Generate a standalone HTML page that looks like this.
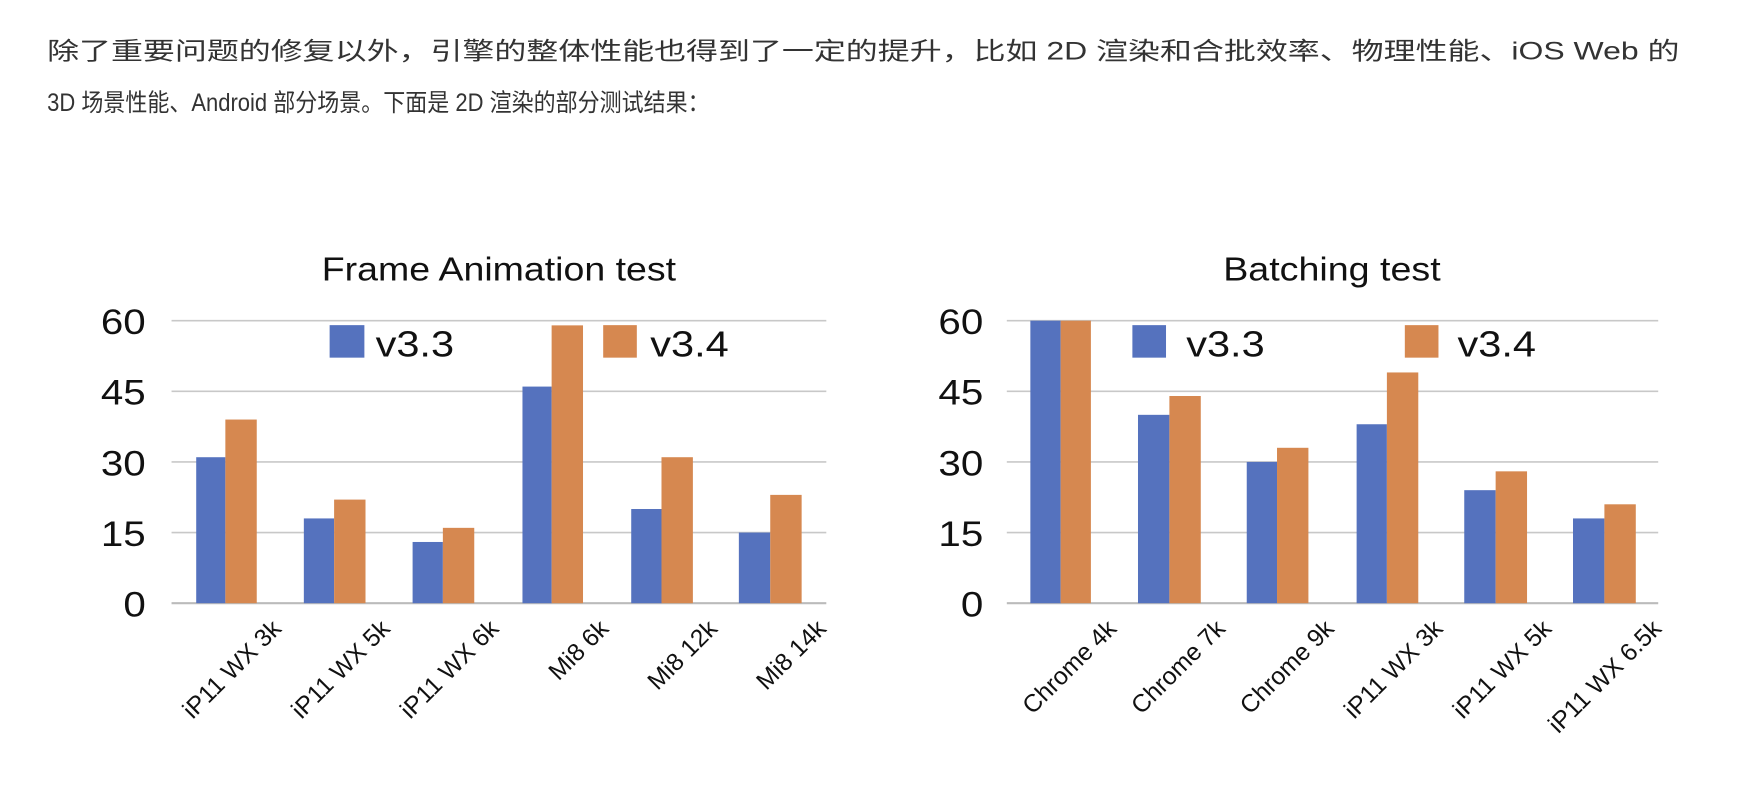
<!DOCTYPE html>
<html><head><meta charset="utf-8"><style>
html,body{margin:0;padding:0;background:#fff;}
svg{display:block;}
</style></head><body>
<svg width="1758" height="805" viewBox="0 0 1568 718" xmlns="http://www.w3.org/2000/svg">
<g font-family="'Liberation Sans','Noto Sans CJK SC',sans-serif" fill="#333" font-size="22">
<text x="42" y="53" textLength="1456" lengthAdjust="spacingAndGlyphs">除了重要问题的修复以外，引擎的整体性能也得到了一定的提升，比如 2D 渲染和合批效率、物理性能、iOS Web 的</text>
<text x="42" y="99" textLength="591" lengthAdjust="spacingAndGlyphs">3D 场景性能、Android 部分场景。下面是 2D 渲染的部分测试结果：</text>
</g>
<g font-family="'Liberation Sans',sans-serif" fill="#111">
<!-- left chart -->
<text x="445" y="250" font-size="30" text-anchor="middle" textLength="316" lengthAdjust="spacingAndGlyphs">Frame Animation test</text>
<g stroke="#c8c8c8" stroke-width="1.5">
<line x1="153" x2="737" y1="286" y2="286"/><line x1="153" x2="737" y1="349" y2="349"/><line x1="153" x2="737" y1="412" y2="412"/><line x1="153" x2="737" y1="475" y2="475"/><line x1="153" x2="737" y1="538" y2="538" stroke="#bbb" stroke-width="2"/>
</g>
<g font-size="31" text-anchor="end">
<text x="130" y="298" textLength="40" lengthAdjust="spacingAndGlyphs">60</text><text x="130" y="361" textLength="40" lengthAdjust="spacingAndGlyphs">45</text><text x="130" y="424" textLength="40" lengthAdjust="spacingAndGlyphs">30</text><text x="130" y="487" textLength="40" lengthAdjust="spacingAndGlyphs">15</text><text x="130" y="550" textLength="20" lengthAdjust="spacingAndGlyphs">0</text>
</g>
<g fill="#5572be">
<rect x="175" y="407.8" width="26" height="130.2"/><rect x="271" y="462.4" width="27" height="75.6"/><rect x="368" y="483.4" width="27" height="54.6"/><rect x="466" y="344.8" width="26" height="193.2"/><rect x="563" y="454" width="27" height="84"/><rect x="659" y="475" width="28" height="63"/>
<rect x="294" y="290" width="31" height="29"/>
</g>
<g fill="#d68850">
<rect x="201" y="374.2" width="28" height="163.8"/><rect x="298" y="445.6" width="28" height="92.4"/><rect x="395" y="470.8" width="28" height="67.2"/><rect x="492" y="290.2" width="28" height="247.8"/><rect x="590" y="407.8" width="28" height="130.2"/><rect x="687" y="441.4" width="28" height="96.6"/>
<rect x="538" y="290" width="30" height="29"/>
</g>
<text x="335" y="318" font-size="32" textLength="70" lengthAdjust="spacingAndGlyphs">v3.3</text><text x="580" y="318" font-size="32" textLength="70" lengthAdjust="spacingAndGlyphs">v3.4</text>
<g font-size="22" text-anchor="end">
<text transform="translate(252,562) rotate(-45)">iP11 WX 3k</text>
<text transform="translate(349,562) rotate(-45)">iP11 WX 5k</text>
<text transform="translate(446,562) rotate(-45)">iP11 WX 6k</text>
<text transform="translate(544,562) rotate(-45)">Mi8 6k</text>
<text transform="translate(641,562) rotate(-45)">Mi8 12k</text>
<text transform="translate(738,562) rotate(-45)">Mi8 14k</text>
</g>
<!-- right chart -->
<text x="1188" y="250" font-size="30" text-anchor="middle" textLength="194" lengthAdjust="spacingAndGlyphs">Batching test</text>
<g stroke="#c8c8c8" stroke-width="1.5">
<line x1="898" x2="1479" y1="286" y2="286"/><line x1="898" x2="1479" y1="349" y2="349"/><line x1="898" x2="1479" y1="412" y2="412"/><line x1="898" x2="1479" y1="475" y2="475"/><line x1="898" x2="1479" y1="538" y2="538" stroke="#bbb" stroke-width="2"/>
</g>
<g font-size="31" text-anchor="end">
<text x="877" y="298" textLength="40" lengthAdjust="spacingAndGlyphs">60</text><text x="877" y="361" textLength="40" lengthAdjust="spacingAndGlyphs">45</text><text x="877" y="424" textLength="40" lengthAdjust="spacingAndGlyphs">30</text><text x="877" y="487" textLength="40" lengthAdjust="spacingAndGlyphs">15</text><text x="877" y="550" textLength="20" lengthAdjust="spacingAndGlyphs">0</text>
</g>
<g fill="#5572be">
<rect x="919" y="286" width="27" height="252"/><rect x="1015" y="370" width="28" height="168"/><rect x="1112" y="412" width="27" height="126"/><rect x="1210" y="378.4" width="27" height="159.6"/><rect x="1306" y="437.2" width="28" height="100.8"/><rect x="1403" y="462.4" width="28" height="75.6"/>
<rect x="1010" y="290" width="30" height="29"/>
</g>
<g fill="#d68850">
<rect x="946" y="286" width="27" height="252"/><rect x="1043" y="353.2" width="28" height="184.8"/><rect x="1139" y="399.4" width="28" height="138.6"/><rect x="1237" y="332.2" width="28" height="205.8"/><rect x="1334" y="420.4" width="28" height="117.6"/><rect x="1431" y="449.8" width="28" height="88.2"/>
<rect x="1253" y="290" width="30" height="29"/>
</g>
<text x="1058" y="318" font-size="32" textLength="70" lengthAdjust="spacingAndGlyphs">v3.3</text><text x="1300" y="318" font-size="32" textLength="70" lengthAdjust="spacingAndGlyphs">v3.4</text>
<g font-size="22" text-anchor="end">
<text transform="translate(997,562) rotate(-45)">Chrome 4k</text>
<text transform="translate(1094,562) rotate(-45)">Chrome 7k</text>
<text transform="translate(1191,562) rotate(-45)">Chrome 9k</text>
<text transform="translate(1288,562) rotate(-45)">iP11 WX 3k</text>
<text transform="translate(1385,562) rotate(-45)">iP11 WX 5k</text>
<text transform="translate(1483,562) rotate(-45)">iP11 WX 6.5k</text>
</g>
</g>
</svg>
</body></html>
